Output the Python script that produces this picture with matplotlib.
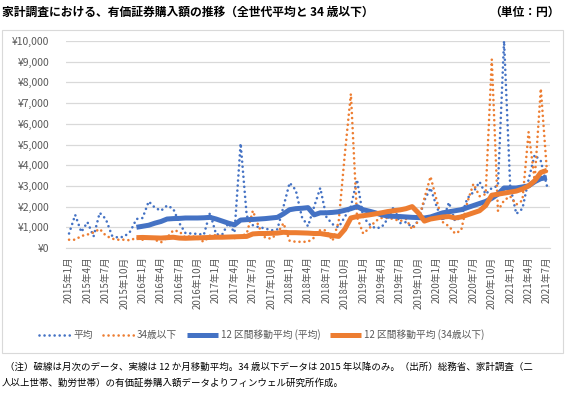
import matplotlib
matplotlib.use("Agg")
import matplotlib.pyplot as plt
from matplotlib.patches import Rectangle

plt.rcParams['font.family'] = ['Noto Sans CJK JP', 'DejaVu Sans']

# monthly data, 2015年1月 - 2021年7月
months = [f"{y}年{m}月" for y in range(2015, 2022) for m in range(1, 13)][:79]

avg_all = [700, 1600, 770, 1250, 560, 1700, 1400, 600, 500, 550, 800, 1400,
           1450, 2250, 1950, 1800, 2050, 1900, 1200, 720, 700, 680, 640, 1700,
           660, 650, 1200, 750, 5050, 1550, 1100, 1000, 950, 850, 900, 2000,
           3150, 2800, 1500, 1050, 2000, 2900, 1500, 1150, 1000, 1500, 2000, 3300,
           1500, 1150, 950, 1000, 1400, 2000, 1200, 1250, 1000, 1300, 2300, 2900,
           2000, 1300, 2200, 1300, 1500, 2400, 2700, 3200, 2600, 2900, 3000, 10000,
           3000, 1650, 1900, 3300, 4500, 4200, 3000]

avg_u34 = [400, 400, 580, 650, 750, 920, 600, 450, 400, 400, 370, 500,
           400, 500, 400, 270, 500, 850, 800, 500, 600, 450, 300, 600,
           620, 550, 500, 480, 550, 700, 1800, 1000, 500, 450, 700, 1200,
           350, 300, 300, 300, 500, 870, 850, 350, 1250, 4500, 7450, 1500,
           700, 950, 1300, 1450, 1450, 1400, 1300, 1400, 900, 1300, 2400, 3450,
           2300, 1250, 1050, 700, 850, 2200, 3100, 2500, 2600, 9100, 1800, 2300,
           2500, 2100, 2300, 5600, 3300, 7700, 3700]

# 12-month moving averages (from 2015年12月)
ma_all = [None] * 11 + [1000, 1050, 1100, 1200, 1280, 1400, 1420, 1430, 1450, 1450,
          1450, 1460, 1480, 1400, 1300, 1200, 1120, 1350, 1370, 1380, 1400, 1420,
          1450, 1480, 1650, 1850, 1900, 1920, 1950, 1600, 1700, 1700, 1720, 1750,
          1820, 1900, 2000, 1850, 1780, 1700, 1600, 1550, 1530, 1520, 1500, 1480,
          1470, 1450, 1500, 1600, 1700, 1750, 1800, 1850, 1950, 2050, 2150, 2250,
          2400, 2600, 2900, 2900, 2900, 2950, 3000, 3200, 3350, 3400]

ma_u34 = [None] * 11 + [500, 510, 500, 490, 480, 500, 520, 480, 470, 480,
          490, 500, 510, 520, 520, 530, 540, 550, 560, 680, 700, 700,
          710, 720, 760, 740, 740, 730, 720, 700, 700, 650, 600, 560,
          900, 1450, 1520, 1560, 1600, 1650, 1700, 1760, 1800, 1840, 1900, 2000,
          1700, 1300, 1400, 1450, 1500, 1520, 1450, 1500, 1600, 1700, 1800, 2050,
          2550, 2600, 2650, 2700, 2750, 2850, 3000, 3250, 3650, 3750]

blue = "#4472C4"
orange = "#ED7D31"
x = list(range(len(months)))

fig = plt.figure(figsize=(5.67, 3.94), dpi=100)
fig.add_artist(Rectangle((2 / 567, 41 / 394), 561 / 567, 323 / 394,
                         transform=fig.transFigure, fill=False,
                         edgecolor="#D9D9D9", linewidth=0.8))

ax = fig.add_axes([66 / 567, (394 - 248) / 394, 484 / 567, 207 / 394])

dot = (0, (0.01, 1.9))
ax.plot(x, avg_all, color=blue, lw=1.9, linestyle=dot, dash_capstyle="round", label="平均")
ax.plot(x, avg_u34, color=orange, lw=1.9, linestyle=dot, dash_capstyle="round", label="34歳以下")
ma_x = x[11:]
ax.plot(ma_x, ma_all[11:], color=blue, lw=3.6, solid_capstyle="butt", label="12 区間移動平均 (平均)")
ax.plot(ma_x, ma_u34[11:], color=orange, lw=3.6, solid_capstyle="butt", label="12 区間移動平均 (34歳以下)")

ax.set_xlim(-0.5, len(months) - 0.5)
ax.set_ylim(0, 10000)
ax.set_yticks(range(0, 10001, 1000))
ax.set_yticklabels([f"¥{v:,}" for v in range(0, 10001, 1000)])
ax.set_xticks(x[::3])
ax.set_xticklabels(months[::3], rotation=90)
ax.tick_params(axis="y", length=0, labelsize=7.5, colors="#595959", pad=12)
ax.tick_params(axis="x", length=0, labelsize=7, colors="#595959", pad=6)
ax.grid(axis="y", color="#D9D9D9", linewidth=0.9)
ax.set_axisbelow(True)
for s in ["top", "right", "left"]:
    ax.spines[s].set_visible(False)
ax.spines["bottom"].set_color("#D9D9D9")

fig.legend(loc="center", bbox_to_anchor=(262 / 567, (394 - 335) / 394), ncol=4,
           frameon=False, fontsize=7, handlelength=3.2, handletextpad=0.3,
           columnspacing=1.0, labelcolor="#595959")

fig.text(2 / 567, 1 - 12 / 394, "家計調査における、有価証券購入額の推移（全世代平均と 34 歳以下）",
         fontsize=8.5, fontweight="bold", va="center", ha="left")
fig.text(560 / 567, 1 - 12 / 394, "（単位：円）", fontsize=8.5, fontweight="bold",
         va="center", ha="right")
fig.text(5 / 567, 1 - 367 / 394,
         "（注）破線は月次のデータ、実線は 12 か月移動平均。34 歳以下データは 2015 年以降のみ。（出所）総務省、家計調査（二",
         fontsize=6.8, va="center", ha="left")
fig.text(2 / 567, 1 - 383 / 394,
         "人以上世帯、勤労世帯）の有価証券購入額データよりフィンウェル研究所作成。",
         fontsize=6.8, va="center", ha="left")

fig.savefig("out.png", dpi=100)
